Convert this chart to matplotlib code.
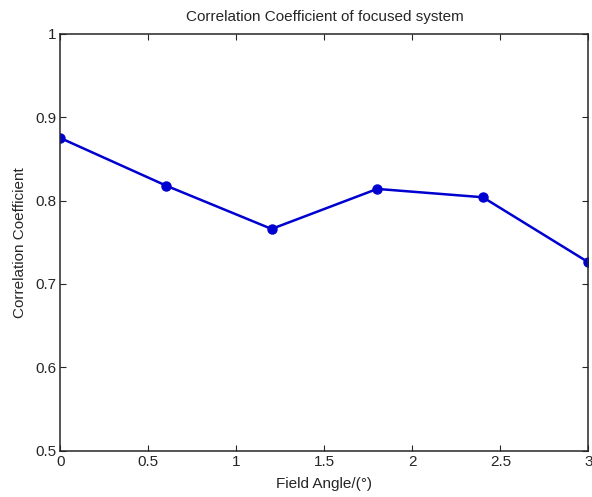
import matplotlib
matplotlib.use("Agg")
import matplotlib.pyplot as plt

field_angle = [0.0, 0.6, 1.2, 1.8, 2.4, 3.0]
correlation = [0.875, 0.818, 0.766, 0.814, 0.804, 0.726]
x_ticks = [0, 0.5, 1, 1.5, 2, 2.5, 3]
x_tick_labels = ["0", "0.5", "1", "1.5", "2", "2.5", "3"]
y_ticks = [0.5, 0.6, 0.7, 0.8, 0.9, 1.0]
y_tick_labels = ["0.5", "0.6", "0.7", "0.8", "0.9", "1"]

plt.rcParams["font.family"] = ["Liberation Sans", "DejaVu Sans"]

fig = plt.figure(figsize=(5.92, 4.97), dpi=100)
ax = fig.add_axes([0.102, 0.093, 0.892, 0.839])

ax.plot(field_angle, correlation, color="#0000d0", linewidth=1.8,
        marker="o", markersize=6.5, markerfacecolor="#0000d0",
        markeredgecolor="#0000d0")

ax.set_xlim(0, 3)
ax.set_ylim(0.5, 1.0)
ax.set_xticks(x_ticks)
ax.set_xticklabels(x_tick_labels)
ax.set_yticks(y_ticks)
ax.set_yticklabels(y_tick_labels)

ax.tick_params(direction="in", top=True, right=True, length=4,
               width=0.8, colors="#262626", labelsize=11, pad=3)
for spine in ax.spines.values():
    spine.set_linewidth(1.1)
    spine.set_color("#262626")

ax.set_title("Correlation Coefficient of focused system", fontsize=11,
             color="#262626", pad=9)
ax.set_xlabel("Field Angle/(°)", fontsize=11, color="#262626", labelpad=6)
ax.set_ylabel("Correlation Coefficient", fontsize=11, color="#262626",
              labelpad=6)

fig.savefig("out.png", dpi=100)
